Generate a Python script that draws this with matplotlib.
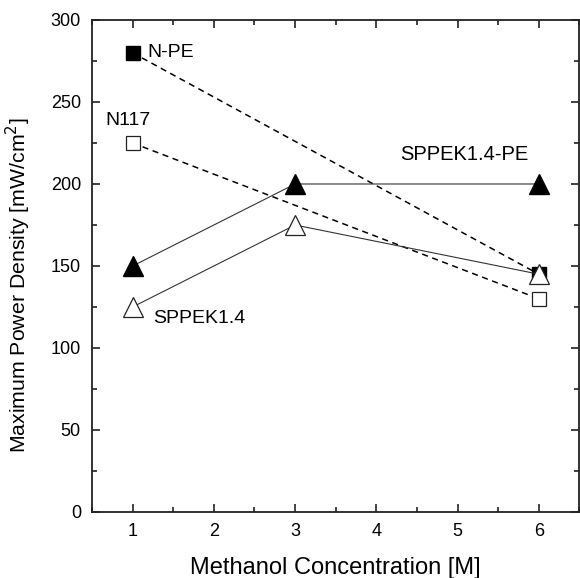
import matplotlib.pyplot as plt
from matplotlib.ticker import MultipleLocator

plt.rcParams['font.family'] = ['Liberation Sans', 'DejaVu Sans']

# methanol concentration [M]
x_n = [1, 6]
x_s = [1, 3, 6]

n_pe = [280, 145]
n117 = [225, 130]
sppek_pe = [150, 200, 200]
sppek = [125, 175, 145]

fig = plt.figure(figsize=(5.8, 5.78), dpi=100)
ax = fig.add_axes([0.1586, 0.1142, 0.8405, 0.8512])

ax.plot(x_n, n_pe, ls="--", color="black", lw=1.1, dashes=(4, 3),
        marker="s", ms=10, mfc="black", mec="black")
ax.plot(x_n, n117, ls="--", color="black", lw=1.1, dashes=(4, 3),
        marker="s", ms=10, mfc="white", mec="#222222", mew=0.9)
ax.plot(x_s, sppek_pe, ls="-", color="#333333", lw=0.8,
        marker="^", ms=14, mfc="black", mec="black")
ax.plot(x_s, sppek, ls="-", color="#333333", lw=0.8,
        marker="^", ms=14, mfc="white", mec="#222222", mew=0.9)

ax.text(1.18, 280, "N-PE", fontsize=14, va="center", ha="left")
ax.text(0.66, 239, "N117", fontsize=14, va="center", ha="left")
ax.text(4.29, 218, "SPPEK1.4-PE", fontsize=14.5, va="center", ha="left")
ax.text(1.25, 118, "SPPEK1.4", fontsize=14, va="center", ha="left")

ax.set_xlim(0.5, 6.5)
ax.set_ylim(0, 300)
ax.xaxis.set_major_locator(MultipleLocator(1))
ax.xaxis.set_minor_locator(MultipleLocator(0.5))
ax.yaxis.set_major_locator(MultipleLocator(50))
ax.yaxis.set_minor_locator(MultipleLocator(25))
ax.tick_params(which="both", direction="in", top=True, right=True,
               labelsize=13, width=1.2, color="#222222")
ax.tick_params(which="major", length=6, pad=8)
ax.tick_params(which="minor", length=3.5)
for s in ax.spines.values():
    s.set_linewidth(1.3)
    s.set_color("#222222")

ax.set_xlabel("Methanol Concentration [M]", fontsize=17, labelpad=12)
ax.set_ylabel("Maximum Power Density [mW/cm$^2$]", fontsize=15.3)
ax.yaxis.set_label_coords(-0.12, 0.461)

fig.savefig("out.png", dpi=100)
